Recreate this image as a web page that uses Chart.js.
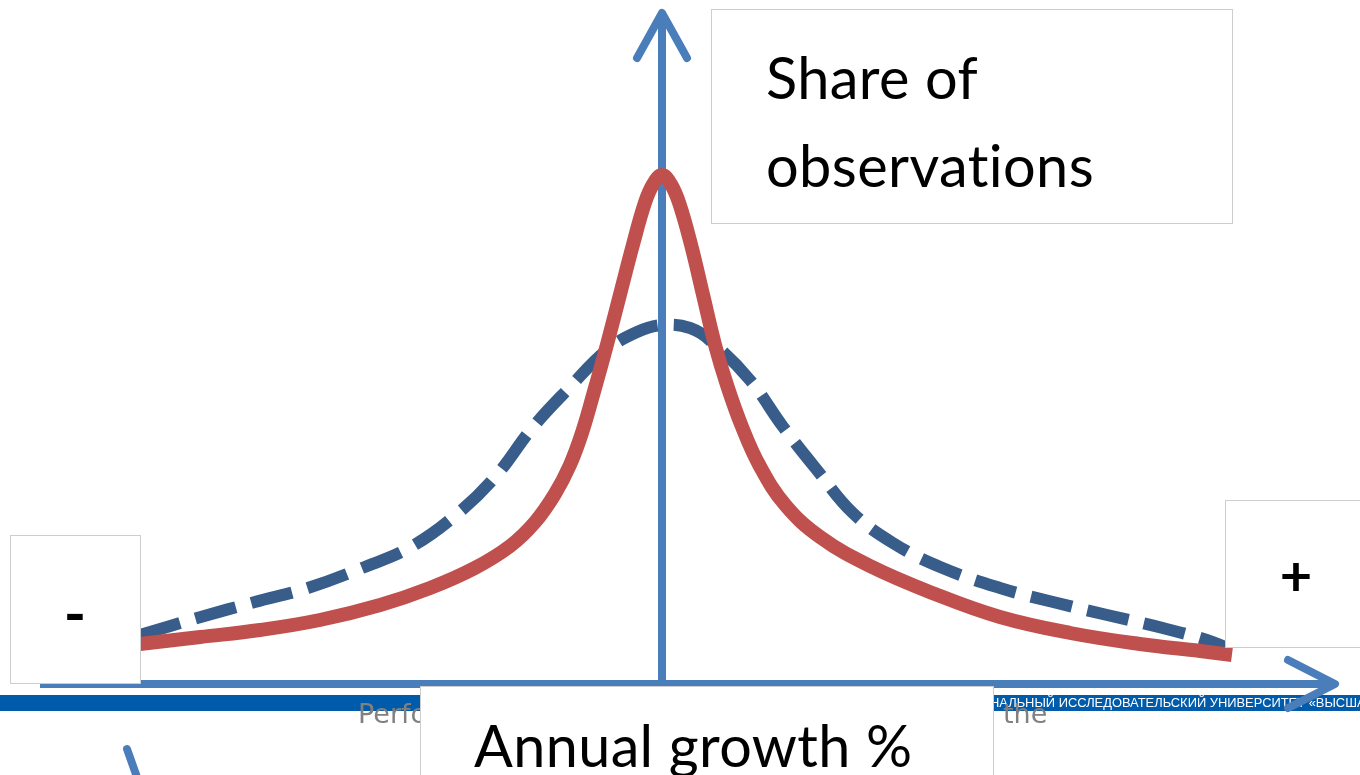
<!DOCTYPE html>
<html>
<head>
<meta charset="utf-8">
<script src="https://cdn.jsdelivr.net/npm/chart.js@4.4.0/dist/chart.umd.min.js"></script>
<style>
  html, body { margin: 0; padding: 0; background: #fff; overflow: hidden; }
  #wrap { position: relative; width: 1360px; height: 775px; }
</style>
</head>
<body>
<div id="wrap"><canvas id="myChart"></canvas></div>
<script>
// annual growth % (x) against share of observations % (y)
const peakedGrowth = [-10.04, -8.88, -7.73, -6.58, -5.42, -4.46, -3.60, -2.92, -2.44, -2.06, -1.77, -1.54, -1.31, -1.06, -0.81, -0.56, -0.33, -0.17, 0,
                      0.17, 0.33, 0.56, 0.79, 1.02, 1.25, 1.54, 1.88, 2.37, 3.04, 4.00, 5.25, 6.50, 7.85, 9.19, 10.35, 10.96];
const peakedShare  = [4.0, 4.7, 5.4, 6.4, 7.9, 9.6, 11.6, 13.8, 16.2, 19.0, 21.9, 25.1, 29.2, 33.9, 38.9, 43.9, 48.1, 50.0, 50.9,
                      50.0, 48.1, 43.9, 38.9, 33.9, 29.9, 25.7, 21.8, 17.9, 14.7, 11.8, 9.0, 6.7, 5.1, 4.0, 3.3, 2.9];

const normalGrowth = [-10.04, -8.87, -7.83, -6.81, -5.77, -4.83, -3.94, -3.21, -2.48, -1.77, -1.06, -0.48, 0,
                      0.54, 0.98, 1.69, 2.33, 2.98, 3.67, 4.44, 5.35, 6.5, 7.52, 8.56, 9.63, 10.48, 10.83];
const normalShare  = [4.9, 6.7, 8.2, 9.6, 11.6, 13.7, 17.0, 20.7, 25.7, 29.7, 33.4, 35.2, 35.9,
                      35.6, 34.1, 30.4, 25.7, 21.4, 17.1, 14.1, 11.7, 9.6, 8.2, 6.9, 5.6, 4.4, 3.7];

const yTitle = ['Share of', 'observations'];
const xTitle = 'Annual growth %';
const leftSign = '-';
const rightSign = '+';
const footerText = 'НАЦИОНАЛЬНЫЙ ИССЛЕДОВАТЕЛЬСКИЙ УНИВЕРСИТЕТ «ВЫСШАЯ ШКОЛА ЭКОНОМИКИ»';

const axisBlue = '#4a7ebb';
const textFont = 'Lato, "Noto Sans", sans-serif';

function toPoints(xs, ys) {
  return xs.map((x, i) => ({ x: x, y: ys[i] }));
}

function fitSize(ctx, text, weight, family, width) {
  ctx.font = weight + ' 100px ' + family;
  return 100 * width / ctx.measureText(text).width;
}

function drawBox(ctx, x, y, w, h) {
  ctx.fillStyle = '#fff';
  ctx.fillRect(x, y, w, h);
  ctx.strokeStyle = '#cdcdcd';
  ctx.lineWidth = 1;
  ctx.strokeRect(x + 0.5, y + 0.5, w, h);
}

function centeredGlyph(ctx, text, cx, cy) {
  const m = ctx.measureText(text);
  ctx.textAlign = 'center';
  ctx.textBaseline = 'alphabetic';
  ctx.fillText(text, cx, cy + (m.actualBoundingBoxAscent - m.actualBoundingBoxDescent) / 2);
}

const slideDecor = {
  id: 'slideDecor',
  beforeDatasetsDraw(chart) {
    const ctx = chart.ctx;
    const x0 = chart.scales.x.getPixelForValue(0);
    const y0 = chart.scales.y.getPixelForValue(0);
    ctx.save();

    // footer band
    ctx.fillStyle = '#005bab';
    ctx.fillRect(0, 695, 1360, 16);
    ctx.fillStyle = '#fff';
    const bandSize = fitSize(ctx, 'НАЛЬНЫЙ ИССЛЕДОВАТЕЛЬСКИЙ УНИВЕРСИТЕТ «ВЫСШ', 'normal', '"Liberation Sans", sans-serif', 366);
    ctx.font = bandSize.toFixed(1) + 'px "Liberation Sans", sans-serif';
    ctx.textAlign = 'left';
    ctx.textBaseline = 'alphabetic';
    const lead = ctx.measureText('НАЦИО').width;
    ctx.fillText(footerText, 990 - lead, 707);

    ctx.fillStyle = '#808080';
    ctx.font = '27px "DejaVu Sans", sans-serif';
    ctx.fillText('Performance', 358, 723);
    ctx.fillText('the', 1003, 723);

    // axes with arrow heads
    ctx.strokeStyle = axisBlue;
    ctx.lineWidth = 8;
    ctx.lineCap = 'butt';
    ctx.beginPath();
    ctx.moveTo(40, y0);
    ctx.lineTo(1333, y0);
    ctx.moveTo(x0, y0);
    ctx.lineTo(x0, 16);
    ctx.stroke();
    ctx.lineCap = 'round';
    ctx.lineJoin = 'round';
    ctx.beginPath();
    ctx.moveTo(x0 - 25, 58);
    ctx.lineTo(x0, 13);
    ctx.lineTo(x0 + 25, 58);
    ctx.stroke();
    ctx.beginPath();
    ctx.moveTo(1288, y0 - 24);
    ctx.lineTo(1335, y0);
    ctx.lineTo(1288, y0 + 24);
    ctx.stroke();
    ctx.restore();
  },
  afterDatasetsDraw(chart) {
    const ctx = chart.ctx;
    ctx.save();
    // a little tracking keeps Lato from joining "ti"
    ctx.letterSpacing = '0.4px';

    // y title
    drawBox(ctx, 711, 9, 521, 214);
    const titleSize = fitSize(ctx, yTitle[1], 'normal', textFont, 326);
    ctx.font = titleSize.toFixed(1) + 'px ' + textFont;
    ctx.fillStyle = '#000';
    ctx.textAlign = 'left';
    ctx.textBaseline = 'alphabetic';
    ctx.fillText(yTitle[0], 766, 99);
    ctx.fillText(yTitle[1], 766, 187);

    // x title
    drawBox(ctx, 420, 686, 573, 100);
    const xSize = fitSize(ctx, xTitle, 'normal', textFont, 436);
    ctx.font = xSize.toFixed(1) + 'px ' + textFont;
    ctx.fillStyle = '#000';
    ctx.fillText(xTitle, 474, 767);

    // sign boxes
    ctx.letterSpacing = '0px';
    drawBox(ctx, 10, 535, 130, 148);
    ctx.font = 'bold 60px ' + textFont;
    ctx.fillStyle = '#000';
    centeredGlyph(ctx, leftSign, 75, 616);
    drawBox(ctx, 1225, 500, 140, 147);
    ctx.font = 'bold 56px ' + textFont;
    ctx.fillStyle = '#000';
    centeredGlyph(ctx, rightSign, 1296, 577);

    // stray connector stroke
    ctx.strokeStyle = axisBlue;
    ctx.lineWidth = 8;
    ctx.lineCap = 'round';
    ctx.beginPath();
    ctx.moveTo(127, 749);
    ctx.lineTo(138, 780);
    ctx.stroke();
    ctx.restore();
  }
};

const ctxm = document.getElementById('myChart');
new Chart(ctxm, {
  type: 'scatter',
  data: {
    datasets: [{
      label: 'Peaked',
      data: toPoints(peakedGrowth, peakedShare),
      showLine: true,
      borderColor: '#c0504d',
      borderWidth: 14,
      pointRadius: 0,
      tension: 0.4,
      fill: false
    }, {
      label: 'Normal',
      data: toPoints(normalGrowth, normalShare),
      showLine: true,
      borderColor: '#385d8a',
      borderWidth: 12,
      borderDash: [42, 16],
      pointRadius: 0,
      tension: 0.4,
      fill: false
    }]
  },
  options: {
    responsive: true,
    maintainAspectRatio: false,
    animation: false,
    events: [],
    layout: { padding: 0 },
    plugins: {
      legend: { display: false },
      tooltip: { enabled: false }
    },
    scales: {
      x: { type: 'linear', display: false, min: -662 / 52, max: 698 / 52 },
      y: { type: 'linear', display: false, min: -9.1, max: 68.4 }
    }
  },
  plugins: [slideDecor]
});
</script>
</body>
</html>
